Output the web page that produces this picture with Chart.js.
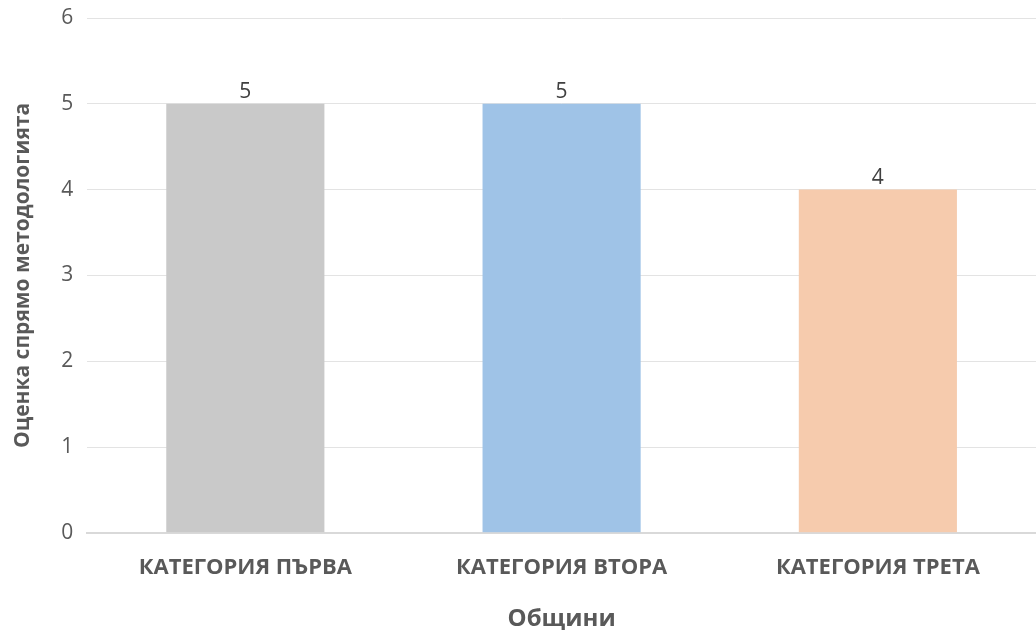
<!DOCTYPE html>
<html>
<head>
<meta charset="utf-8">
<script src="https://cdn.jsdelivr.net/npm/chart.js@4/dist/chart.umd.min.js"></script>
<style>
  html, body { margin: 0; padding: 0; background: #fff; }
  #grafik { display: block; }
</style>
</head>
<body>
<canvas id="grafik" width="1036" height="630"></canvas>
<script>
const kategorii = ['КАТЕГОРИЯ ПЪРВА', 'КАТЕГОРИЯ ВТОРА', 'КАТЕГОРИЯ ТРЕТА'];
const ocenki = [5, 5, 4];
const cvetove = ['#c9c9c9', '#9fc3e7', '#f6cbad'];

// стойностите над колоните
const etiketi = {
  id: 'etiketi',
  afterDatasetsDraw(chart) {
    const ctx = chart.ctx;
    const meta = chart.getDatasetMeta(0);
    ctx.save();
    ctx.font = '21px "Open Sans"';
    ctx.fillStyle = '#404040';
    ctx.textAlign = 'center';
    ctx.textBaseline = 'bottom';
    meta.data.forEach((bar, i) => {
      ctx.fillText(ocenki[i], bar.x, bar.y - 1);
    });
    ctx.restore();
  }
};

const ctx = document.getElementById('grafik').getContext('2d');

const grafik = new Chart(ctx, {
  type: 'bar',
  data: {
    labels: kategorii,
    datasets: [{
      data: ocenki,
      backgroundColor: cvetove,
      barPercentage: 0.5,
      categoryPercentage: 1
    }]
  },
  options: {
    responsive: false,
    animation: false,
    layout: { padding: { top: 18, right: -11, left: 10, bottom: -4 } },
    plugins: {
      legend: { display: false },
      tooltip: { enabled: false }
    },
    scales: {
      x: {
        // областта продължава малко след десния край
        afterFit(scale) { scale.paddingRight = -11; },
        grid: { display: false },
        border: { color: '#d9d9d9', width: 2 },
        ticks: {
          color: '#595959',
          padding: 14,
          font: { family: '"Open Sans"', size: 22, weight: 'bold' }
        },
        title: {
          display: true,
          text: 'Общини',
          color: '#595959',
          padding: { top: 10, bottom: 0 },
          font: { family: '"Open Sans"', size: 24, weight: 'bold' }
        }
      },
      y: {
        min: 0,
        max: 6,
        // горният етикет да не избутва областта надолу
        afterFit(scale) { scale.paddingTop = 0; },
        grid: { color: '#e3e3e3', lineWidth: 1, drawTicks: false },
        border: { display: false },
        ticks: {
          stepSize: 1,
          color: '#595959',
          padding: 14,
          font: { family: '"Open Sans"', size: 21 }
        },
        title: {
          display: true,
          text: 'Оценка спрямо методологията',
          color: '#595959',
          padding: { top: 0, bottom: 12 },
          font: { family: '"Open Sans"', size: 21, weight: 'bold' }
        }
      }
    }
  },
  plugins: [etiketi]
});
</script>
</body>
</html>
